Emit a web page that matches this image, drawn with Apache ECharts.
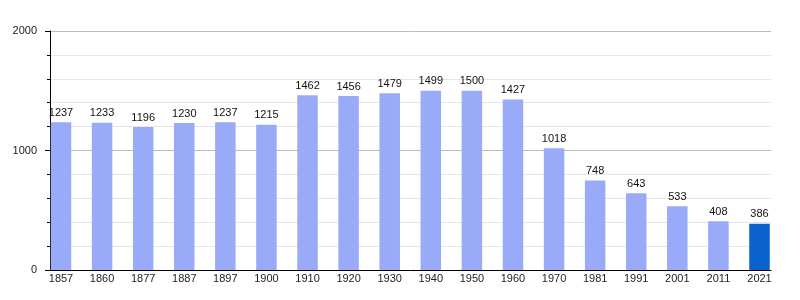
<!DOCTYPE html>
<html>
<head>
<meta charset="utf-8">
<script src="https://cdn.jsdelivr.net/npm/echarts@6/dist/echarts.min.js"></script>
<style>
html,body{margin:0;padding:0;background:#fff;}
#c{width:800px;height:300px;}
</style>
</head>
<body>
<div id="c"></div>
<script>
var years = ['1857','1860','1877','1887','1897','1900','1910','1920','1930','1940','1950','1960','1970','1981','1991','2001','2011','2021'];
var population = [1237,1233,1196,1230,1237,1215,1462,1456,1479,1499,1500,1427,1018,748,643,533,408,386];
var yTicks = [0, 1000, 2000];

var chart = echarts.init(document.getElementById('c'), null, {renderer: 'canvas'});
var font = 'Liberation Sans, Arial, sans-serif';
var lastIdx = population.length - 1;

chart.setOption({
  animation: false,
  backgroundColor: '#ffffff',
  grid: [
    {left: 50, right: 29, top: 31, bottom: 30},
    {left: 40.45, right: 19.95, top: 31, bottom: 30}
  ],
  xAxis: [
    {
      gridIndex: 0, type: 'category', data: years,
      axisLine: {show: true, lineStyle: {color: '#000', width: 1}},
      axisTick: {show: false}, axisLabel: {show: false}, splitLine: {show: false}
    },
    {
      gridIndex: 1, type: 'category', data: years, boundaryGap: true,
      axisLine: {show: false}, axisTick: {show: false},
      axisLabel: {show: true, color: '#222', fontSize: 11, fontFamily: font, margin: 3, interval: 0}
    }
  ],
  yAxis: [
    {
      gridIndex: 0, type: 'value', min: yTicks[0], max: yTicks[yTicks.length - 1], interval: 1000,
      axisLine: {show: true, lineStyle: {color: '#000', width: 1}},
      axisTick: {show: true, length: 5, lineStyle: {color: '#000'}},
      minorTick: {show: true, splitNumber: 5, length: 3, lineStyle: {color: '#000'}},
      axisLabel: {color: '#222', fontSize: 11, fontFamily: font, margin: 13,
        formatter: function (v) { return String(v); }},
      splitLine: {show: true, lineStyle: {color: '#bbbbbb', width: 1}},
      minorSplitLine: {show: true, lineStyle: {color: '#e6e6e6', width: 1}}
    },
    {
      gridIndex: 1, type: 'value', min: yTicks[0], max: yTicks[yTicks.length - 1],
      show: false
    }
  ],
  series: [{
    type: 'bar',
    xAxisIndex: 1, yAxisIndex: 1,
    data: population,
    barWidth: 20.5,
    itemStyle: {
      color: function (p) { return p.dataIndex === lastIdx ? '#0a63cc' : '#99abf8'; }
    },
    label: {
      show: true, position: 'top', distance: 4,
      color: '#111', fontSize: 11, fontFamily: font
    }
  }]
});
</script>
</body>
</html>
